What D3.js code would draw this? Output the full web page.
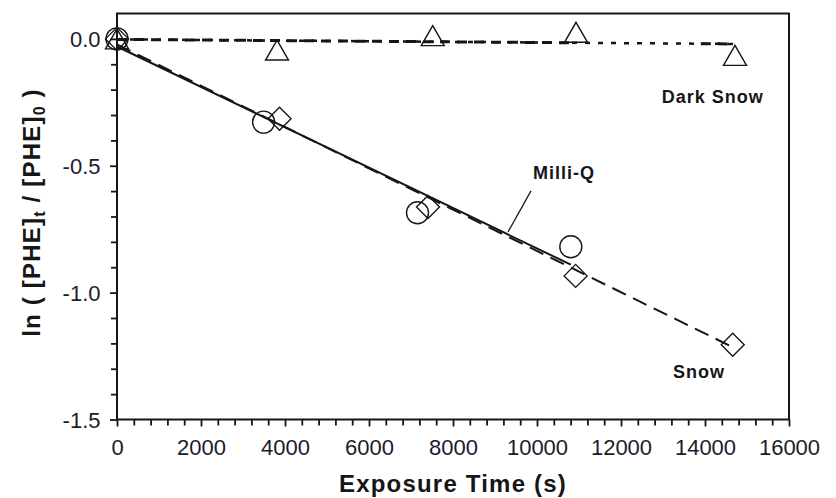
<!DOCTYPE html>
<html>
<head>
<meta charset="utf-8">
<script src="https://cdn.jsdelivr.net/npm/d3@7"></script>
<style>
  html, body { margin: 0; padding: 0; background: #fff; }
  svg { display: block; }
</style>
</head>
<body>
<svg id="chart" width="836" height="498"></svg>
<script>
// Photodegradation of phenanthrene: ln([PHE]t/[PHE]0) versus exposure time
const milliQTime = [0, 3490, 7155, 10805];
const milliQLnRatio = [0.0, -0.328, -0.685, -0.819];

const snowTime = [0, 3870, 7405, 10920, 14660];
const snowLnRatio = [0.0, -0.315, -0.663, -0.934, -1.205];

const darkSnowTime = [0, 3810, 7517, 10929, 14714];
const darkSnowLnRatio = [0.0, -0.044, 0.013, 0.026, -0.065];

// Linear fits, each as [start, end] in [time, ln ratio]
const milliQFit = [[0, -0.030], [10805, -0.890]];
const snowFit = [[0, -0.022], [14660, -1.215]];
const darkSnowFit = [[0, -0.002], [14714, -0.020]];
// Time spans over which the dark-snow fit is drawn with long dashes
const darkSnowLongDashSpans = [[0, 10929], [13900, 14714]];

const xTickValues = [0, 2000, 4000, 6000, 8000, 10000, 12000, 14000, 16000];
const xTickLabels = ["0", "2000", "4000", "6000", "8000", "10000", "12000", "14000", "16000"];
const yTickValues = [0.0, -0.5, -1.0, -1.5];
const yTickLabels = ["0.0", "-0.5", "-1.0", "-1.5"];

const xDomain = [0, 16000];
const yDomain = [-1.5, 0.1];

// Series annotations: text, anchor point [time, ln ratio]
const seriesLabels = [
  { text: "Milli-Q", at: [9905, -0.552] },
  { text: "Dark Snow", at: [12969, -0.2515] },
  { text: "Snow", at: [13238, -1.335] }
];
// Leader from the Milli-Q label down to its fit line
const milliQLeader = [[9857, -0.599], [9310, -0.761]];

const plot = { left: 117, right: 789, top: 13.5, bottom: 419.5 };
const ink = "#161616";
const labelInk = "#1c1c2a";

const svg = d3.select("#chart");

const x = d3.scaleLinear().domain(xDomain).range([plot.left, plot.right]);
const y = d3.scaleLinear().domain(yDomain).range([plot.bottom, plot.top]);

const xMinor = d3.range(xDomain[0], xDomain[1] + 1, 400).filter(v => !xTickValues.includes(v));
const yMinor = d3.range(-15, 1, 1).map(v => v / 10).filter(v => !yTickValues.some(t => Math.abs(t - v) < 1e-9));

// Minor ticks
const xMinorAxis = svg.append("g")
  .attr("transform", `translate(0,${plot.bottom})`)
  .call(d3.axisBottom(x).tickValues(xMinor).tickSize(6).tickFormat(""));
const yMinorAxis = svg.append("g")
  .attr("transform", `translate(${plot.left},0)`)
  .call(d3.axisLeft(y).tickValues(yMinor).tickSize(6).tickFormat(""));

// Major ticks with labels
const xAxis = svg.append("g")
  .attr("transform", `translate(0,${plot.bottom})`)
  .call(d3.axisBottom(x).tickValues(xTickValues).tickSize(7)
    .tickFormat((d, i) => xTickLabels[i]));
const yAxis = svg.append("g")
  .attr("transform", `translate(${plot.left},0)`)
  .call(d3.axisLeft(y).tickValues(yTickValues).tickSize(7)
    .tickFormat((d, i) => yTickLabels[i]));

[xMinorAxis, yMinorAxis, xAxis, yAxis].forEach(g => {
  g.select(".domain").remove();
  g.selectAll(".tick line").attr("stroke", ink).attr("stroke-width", 1.8);
});

xAxis.selectAll(".tick text")
  .attr("y", 35.5).attr("dy", 0)
  .attr("font-family", "Liberation Sans, Arial, sans-serif")
  .attr("font-size", 22)
  .attr("fill", labelInk);
yAxis.selectAll(".tick text")
  .attr("x", -16.5).attr("dy", "0.35em")
  .attr("font-family", "Liberation Sans, Arial, sans-serif")
  .attr("font-size", 22)
  .attr("fill", labelInk);

// Plot frame
svg.append("rect")
  .attr("x", plot.left).attr("y", plot.top)
  .attr("width", plot.right - plot.left)
  .attr("height", plot.bottom - plot.top)
  .attr("fill", "none")
  .attr("stroke", ink)
  .attr("stroke-width", 2);

const line = d3.line().x(d => x(d[0])).y(d => y(d[1]));

// Dark-snow fit: dotted over the full span, long dashes over parts of it
const darkAt = t => darkSnowFit[0][1] +
  (darkSnowFit[1][1] - darkSnowFit[0][1]) * (t - darkSnowFit[0][0]) / (darkSnowFit[1][0] - darkSnowFit[0][0]);
svg.append("path")
  .datum(darkSnowFit)
  .attr("d", line)
  .attr("fill", "none").attr("stroke", ink)
  .attr("stroke-width", 2.5)
  .attr("stroke-dasharray", "5,8");
svg.append("g").selectAll("path")
  .data(darkSnowLongDashSpans.map(s => s.map(t => [t, darkAt(t)])))
  .join("path")
  .attr("d", line)
  .attr("fill", "none").attr("stroke", ink)
  .attr("stroke-width", 3)
  .attr("stroke-dasharray", "10,7");

svg.append("path")
  .datum(milliQFit)
  .attr("d", line)
  .attr("fill", "none").attr("stroke", ink)
  .attr("stroke-width", 2);

svg.append("path")
  .datum(snowFit)
  .attr("d", line)
  .attr("fill", "none").attr("stroke", ink)
  .attr("stroke-width", 2)
  .attr("stroke-dasharray", "15,8");

// Markers
const markerStroke = 1.4;
svg.append("g").selectAll("circle")
  .data(d3.zip(milliQTime, milliQLnRatio))
  .join("circle")
  .attr("cx", d => x(d[0])).attr("cy", d => y(d[1]))
  .attr("r", 11)
  .attr("fill", "none").attr("stroke", ink).attr("stroke-width", markerStroke);

const diamond = "M0,-11.5L11.5,0L0,11.5L-11.5,0Z";
svg.append("g").selectAll("path")
  .data(d3.zip(snowTime, snowLnRatio))
  .join("path")
  .attr("d", diamond)
  .attr("transform", d => `translate(${x(d[0])},${y(d[1])})`)
  .attr("fill", "none").attr("stroke", ink).attr("stroke-width", markerStroke);

const triangle = "M0,-10L11.5,10L-11.5,10Z";
svg.append("g").selectAll("path")
  .data(d3.zip(darkSnowTime, darkSnowLnRatio))
  .join("path")
  .attr("d", triangle)
  .attr("transform", d => `translate(${x(d[0])},${y(d[1])})`)
  .attr("fill", "none").attr("stroke", ink).attr("stroke-width", markerStroke);

// Series labels
svg.append("g").selectAll("text")
  .data(seriesLabels)
  .join("text")
  .attr("x", d => x(d.at[0])).attr("y", d => y(d.at[1]))
  .attr("font-family", "Liberation Sans, Arial, sans-serif")
  .attr("font-weight", "bold")
  .attr("font-size", 18)
  .attr("letter-spacing", 1)
  .attr("fill", ink)
  .text(d => d.text);

svg.append("path")
  .datum(milliQLeader)
  .attr("d", line)
  .attr("fill", "none").attr("stroke", ink).attr("stroke-width", 1.3);

// Axis titles
svg.append("text")
  .attr("x", (plot.left + plot.right) / 2)
  .attr("y", 491.5)
  .attr("text-anchor", "middle")
  .attr("font-family", "Liberation Sans, Arial, sans-serif")
  .attr("font-weight", "bold")
  .attr("font-size", 24)
  .attr("letter-spacing", 1.2)
  .attr("fill", ink)
  .text("Exposure Time (s)");

const yTitle = svg.append("text")
  .attr("transform", "translate(39.5,212.5) rotate(-90)")
  .attr("text-anchor", "middle")
  .attr("font-family", "Liberation Sans, Arial, sans-serif")
  .attr("font-weight", "bold")
  .attr("font-size", 24)
  .attr("letter-spacing", 1.2)
  .attr("fill", ink);
yTitle.append("tspan").text("ln ( [PHE]");
yTitle.append("tspan").attr("font-size", 16).attr("dy", 5).text("t");
yTitle.append("tspan").attr("dy", -5).text(" / [PHE]");
yTitle.append("tspan").attr("font-size", 16).attr("dy", 5).text("0");
yTitle.append("tspan").attr("dy", -5).text(" )");
</script>
</body>
</html>
